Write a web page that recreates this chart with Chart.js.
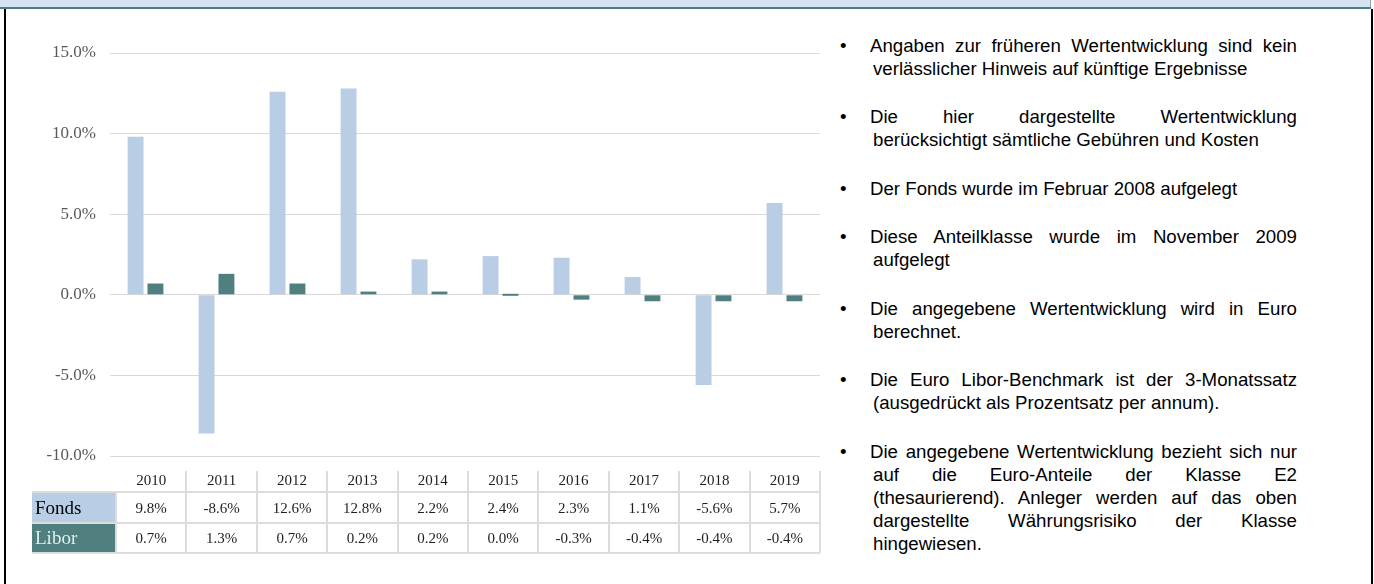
<!DOCTYPE html>
<html lang="de">
<head>
<meta charset="utf-8">
<title>Wertentwicklung Fonds / Libor</title>
<script src="https://cdn.jsdelivr.net/npm/chart.js@4.4.1/dist/chart.umd.min.js"></script>
<style>
    html, body { margin: 0; padding: 0; background: #fff; }
    body { width: 1374px; height: 584px; position: relative; overflow: hidden; }
    .band { position: absolute; left: 0; top: 0; width: 1370px; height: 7px; background: #d6e3f1; border-right: 1px solid #8ea2b4; }
    .band-line { position: absolute; left: 0; top: 7px; width: 1371px; height: 2px; background: #4f7c86; }
    .frame-left { position: absolute; left: 4px; top: 9px; width: 2px; height: 575px; background: #000; z-index: 2; }
    .frame-right { position: absolute; left: 1371px; top: 9px; width: 2px; height: 575px; background: #000; z-index: 2; }
    #chartBox { position: absolute; left: 0; top: 0; width: 830px; height: 584px; }
    .notes { position: absolute; left: 840px; top: 33.5px; width: 457px; margin: 0; padding: 0; list-style: none;
             font-family: "Liberation Sans", Arial, sans-serif; font-size: 18.67px; line-height: 23px; color: #000; }
    .notes li { position: relative; padding-left: 30px; margin-bottom: 25.5px; }
    .notes li::before { content: '\2022'; position: absolute; left: 0; top: 0; }
    .notes .ln { display: block; white-space: nowrap; }
    .notes .j { text-align: justify; text-align-last: justify; white-space: normal; }
    .notes .c { padding-left: 3px; }
</style>
</head>
<body>
<div class="band"></div>
<div class="band-line"></div>
<div class="frame-left"></div>
<div class="frame-right"></div>

<div id="chartBox"><canvas id="perfChart" width="830" height="584"></canvas></div>

<ul class="notes">
    <li><span class="ln j">Angaben zur früheren Wertentwicklung sind kein</span><span class="ln c">verlässlicher Hinweis auf künftige Ergebnisse</span></li>
    <li><span class="ln j">Die hier dargestellte Wertentwicklung</span><span class="ln c">berücksichtigt sämtliche Gebühren und Kosten</span></li>
    <li><span class="ln">Der Fonds wurde im Februar 2008 aufgelegt</span></li>
    <li><span class="ln j">Diese Anteilklasse wurde im November 2009</span><span class="ln c">aufgelegt</span></li>
    <li><span class="ln j">Die angegebene Wertentwicklung wird in Euro</span><span class="ln c">berechnet.</span></li>
    <li><span class="ln j">Die Euro Libor-Benchmark ist der 3-Monatssatz</span><span class="ln c">(ausgedrückt als Prozentsatz per annum).</span></li>
    <li><span class="ln j">Die angegebene Wertentwicklung bezieht sich nur</span><span class="ln j c">auf die Euro-Anteile der Klasse E2</span><span class="ln j c">(thesaurierend). Anleger werden auf das oben</span><span class="ln j c">dargestellte Währungsrisiko der Klasse</span><span class="ln c">hingewiesen.</span></li>
</ul>

<script>
// Jahreswerte (in %)
const years = ['2010', '2011', '2012', '2013', '2014', '2015', '2016', '2017', '2018', '2019'];
const fondsValues = [9.8, -8.6, 12.6, 12.8, 2.2, 2.4, 2.3, 1.1, -5.6, 5.7];
const liborValues = [0.7, 1.3, 0.7, 0.2, 0.2, 0.0, -0.3, -0.4, -0.4, -0.4];
const seriesNames = ['Fonds', 'Libor'];
const yTicks = [-10, -5, 0, 5, 10, 15];

const fondsColor = '#b9cde5';
const liborColor = '#4f7f7f';
const serifFont = '"Liberation Serif", "Times New Roman", serif';

function pct(v) {
    return v.toFixed(1) + '%';
}

// Data table under the chart (years, Fonds row, Libor row)
const dataTablePlugin = {
    id: 'dataTable',
    afterDraw(chart) {
        const ctx = chart.ctx;
        const left = 32, labelRight = 116, right = 820;
        const colW = (right - labelRight) / years.length;
        const headTop = 471, rowTop = 492, rowMid = 523, rowBottom = 553;

        ctx.save();
        // label cells
        ctx.fillStyle = fondsColor;
        ctx.fillRect(left, rowTop, labelRight - left, rowMid - rowTop);
        ctx.fillStyle = liborColor;
        ctx.fillRect(left, rowMid, labelRight - left, rowBottom - rowMid);

        // grid lines
        ctx.strokeStyle = '#dcdcdc';
        ctx.lineWidth = 2;
        ctx.beginPath();
        [rowTop, rowMid, rowBottom].forEach(y => {
            ctx.moveTo(left, y);
            ctx.lineTo(right, y);
        });
        for (let i = 1; i <= years.length; i++) {
            const x = Math.round(labelRight + i * colW);
            ctx.moveTo(x, headTop);
            ctx.lineTo(x, rowBottom);
        }
        ctx.moveTo(labelRight, rowTop);
        ctx.lineTo(labelRight, rowBottom);
        ctx.stroke();

        // texts
        ctx.textAlign = 'center';
        ctx.textBaseline = 'middle';
        ctx.fillStyle = '#1e1e1e';
        ctx.font = '15px ' + serifFont;
        years.forEach((yr, i) => {
            const cx = labelRight + (i + 0.5) * colW;
            ctx.fillText(yr, cx, 481);
            ctx.fillText(pct(fondsValues[i]), cx, 509);
            ctx.fillText(pct(liborValues[i]), cx, 539);
        });

        ctx.textAlign = 'left';
        ctx.font = '19px ' + serifFont;
        ctx.fillStyle = '#000';
        ctx.fillText(seriesNames[0], 35, 509);
        ctx.fillStyle = '#e4eeee';
        ctx.fillText(seriesNames[1], 35, 539);
        ctx.restore();
    }
};

function initChart() {
    const canvas = document.getElementById('perfChart');
    if (!canvas || typeof Chart === 'undefined') return;

    new Chart(canvas, {
        type: 'bar',
        data: {
            labels: years,
            datasets: [
                { label: seriesNames[0], data: fondsValues, backgroundColor: fondsColor,
                  categoryPercentage: 0.56, barPercentage: 0.8 },
                { label: seriesNames[1], data: liborValues, backgroundColor: liborColor,
                  categoryPercentage: 0.56, barPercentage: 0.8, minBarLength: 2 }
            ]
        },
        options: {
            responsive: false,
            animation: false,
            devicePixelRatio: 1,
            layout: { padding: { top: 53, bottom: 128, left: 0, right: 10 } },
            plugins: { legend: { display: false }, tooltip: { enabled: false } },
            scales: {
                x: { display: false },
                y: {
                    min: yTicks[0],
                    max: yTicks[yTicks.length - 1],
                    afterFit: scale => { scale.width = 110; },
                    afterBuildTicks: scale => { scale.ticks = yTicks.map(v => ({ value: v })); },
                    border: { display: false },
                    grid: { color: '#d9d9d9', lineWidth: 1, drawTicks: false },
                    ticks: {
                        padding: 14,
                        color: '#595959',
                        font: { family: serifFont, size: 17 },
                        callback: v => pct(v)
                    }
                }
            }
        },
        plugins: [dataTablePlugin]
    });
}

document.addEventListener('DOMContentLoaded', initChart);
</script>
</body>
</html>
